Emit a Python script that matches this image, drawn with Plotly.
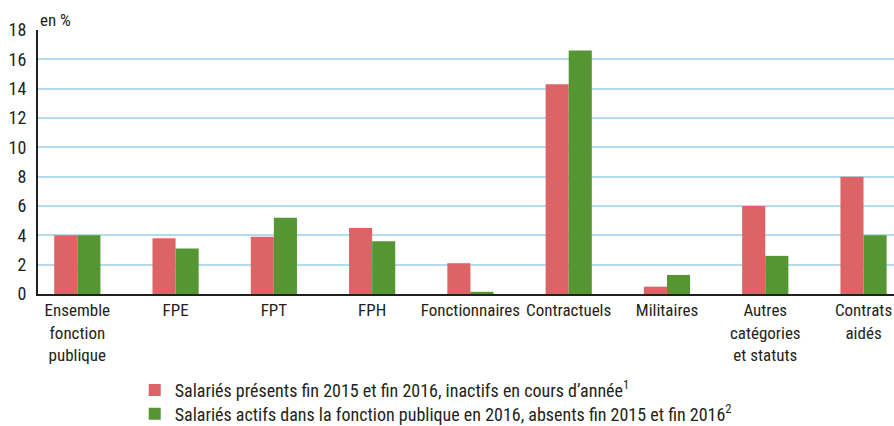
import plotly.graph_objects as go

categories = ["Ensemble<br>fonction<br>publique", "FPE", "FPT", "FPH", "Fonctionnaires",
              "Contractuels", "Militaires", "Autres<br>catégories<br>et statuts", "Contrats<br>aidés"]
series1_name = "Salariés présents fin 2015 et fin 2016, inactifs en cours d’année<sup>1</sup>"
series2_name = "Salariés actifs dans la fonction publique en 2016, absents fin 2015 et fin 2016<sup>2</sup>"
series1 = [4.0, 3.8, 3.9, 4.5, 2.1, 14.3, 0.5, 6.0, 8.0]
series2 = [4.0, 3.1, 5.2, 3.6, 0.15, 16.6, 1.3, 2.6, 4.0]
y_ticks = [0, 2, 4, 6, 8, 10, 12, 14, 16, 18]

FONT = "Liberation Sans Narrow, Roboto Condensed, Arial Narrow, Liberation Sans, sans-serif"
TXT = "#231f20"

fig = go.Figure()
fig.add_trace(go.Bar(x=categories, y=series1, name=series1_name, marker_color="#dc6466",
                     marker_line_width=0, legend="legend"))
fig.add_trace(go.Bar(x=categories, y=series2, name=series2_name, marker_color="#559632",
                     marker_line_width=0, legend="legend2"))

leg_common = dict(orientation="v", xanchor="left", yanchor="middle", yref="container",
                  font=dict(size=18, color=TXT), bgcolor="rgba(0,0,0,0)",
                  borderwidth=0)

fig.update_layout(
    width=894, height=426,
    margin=dict(l=38, r=0, t=30, b=132),
    paper_bgcolor="white", plot_bgcolor="white",
    barmode="group", bargap=0.53, bargroupgap=0,
    font=dict(family=FONT, size=15, color=TXT),
    showlegend=True,
    legend=dict(x=0.113, y=0.084, **leg_common),
    legend2=dict(x=0.113, y=0.028, **leg_common),
    xaxis=dict(type="category", range=[-0.4, 8.31], showgrid=False, automargin=False,
               showline=True, linecolor=TXT, linewidth=2,
               ticks="", tickfont=dict(size=17), tickangle=0),
    yaxis=dict(range=[0, 18], tickvals=y_ticks, showgrid=True, gridcolor="#b3dbf2",
               gridwidth=1.5, zeroline=False, showline=True, linecolor=TXT, automargin=False,
               linewidth=2, ticks="", tickfont=dict(size=18), ticklabelstandoff=6),
    annotations=[dict(text="en %", xref="paper", yref="paper", x=0, y=1, xanchor="left",
                      yanchor="bottom", showarrow=False, font=dict(size=17), yshift=-2)],
)

fig.write_html("out.html", config={"displayModeBar": False},
               post_script="document.body.style.margin='0';document.body.style.overflow='hidden';")
